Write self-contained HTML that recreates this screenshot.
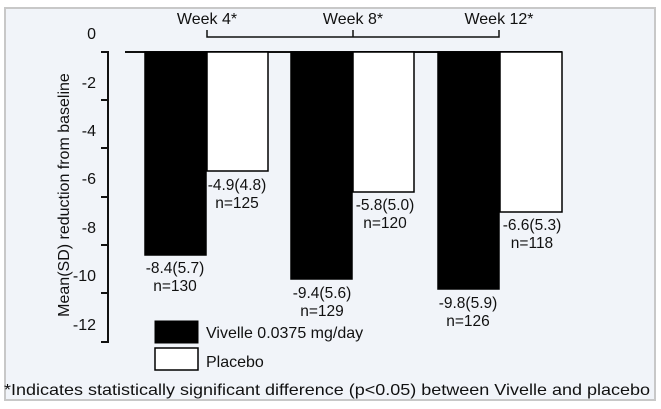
<!DOCTYPE html>
<html><head><style>
body{margin:0;background:#fff;}
svg{display:block;font-family:"Liberation Sans",Arial,sans-serif;}
</style></head><body>
<svg width="661" height="409" viewBox="0 0 661 409">
<rect x="5" y="8" width="650" height="392" fill="#f1f4f9" stroke="#c8c8c8" stroke-width="2"/>
<g font-size="16" fill="#111" text-anchor="middle">
<text x="207" y="24">Week 4*</text>
<text x="353" y="24">Week 8*</text>
<text x="499" y="24">Week 12*</text>
</g>
<path d="M207 30V37H499V30M353 30V37" fill="none" stroke="#111" stroke-width="1.5"/>
<path d="M101 52H108V342H101M101 100H108M101 148H108M101 197H108M101 245H108M101 293H108" fill="none" stroke="#111" stroke-width="2"/>
<line x1="125" y1="52" x2="562" y2="52" stroke="#111" stroke-width="2"/>
<g font-size="16" fill="#111" text-anchor="end">
<text x="96" y="39">0</text>
<text x="96" y="88">-2</text>
<text x="96" y="136">-4</text>
<text x="96" y="184">-6</text>
<text x="96" y="233">-8</text>
<text x="96" y="281">-10</text>
<text x="96" y="330">-12</text>
</g>
<text transform="translate(69,195) rotate(-90)" font-size="16" text-anchor="middle" fill="#111">Mean(SD) reduction from baseline</text>
<g stroke="#000" stroke-width="1.5">
<rect x="145" y="52" width="61" height="203" fill="#000"/>
<rect x="207" y="52" width="61" height="119" fill="#fff"/>
<rect x="291" y="52" width="61" height="227" fill="#000"/>
<rect x="353" y="52" width="61" height="140" fill="#fff"/>
<rect x="438" y="52" width="61" height="237" fill="#000"/>
<rect x="500" y="52" width="62" height="160" fill="#fff"/>
</g>
<g font-size="15.5" fill="#111" text-anchor="middle">
<text x="237" y="190">-4.9(4.8)</text><text x="237" y="208">n=125</text>
<text x="175" y="273">-8.4(5.7)</text><text x="175" y="291">n=130</text>
<text x="385" y="210">-5.8(5.0)</text><text x="385" y="228">n=120</text>
<text x="322" y="298">-9.4(5.6)</text><text x="322" y="316">n=129</text>
<text x="532" y="230">-6.6(5.3)</text><text x="532" y="248">n=118</text>
<text x="468" y="308">-9.8(5.9)</text><text x="468" y="326">n=126</text>
</g>
<rect x="155" y="321" width="43" height="22" fill="#000" stroke="#000"/>
<rect x="155" y="348" width="43" height="22" fill="#fff" stroke="#000" stroke-width="1.5"/>
<g font-size="16" fill="#111">
<text x="206" y="338">Vivelle 0.0375 mg/day</text>
<text x="206" y="367">Placebo</text>
<text x="4" y="395" textLength="646" lengthAdjust="spacingAndGlyphs">*Indicates statistically significant difference (p&lt;0.05) between Vivelle and placebo</text>
</g>
</svg>
</body></html>
